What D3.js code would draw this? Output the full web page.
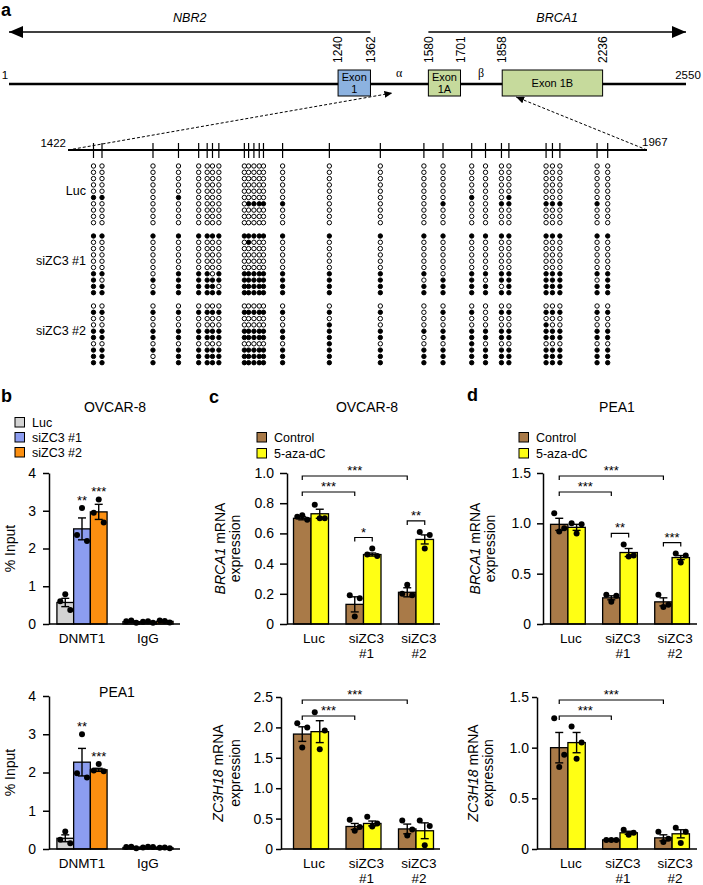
<!DOCTYPE html>
<html>
<head>
<meta charset="utf-8">
<script src="https://cdn.jsdelivr.net/npm/d3@7"></script>
<style>
  body { margin: 0; background: #fff; }
  svg { font-family: "Liberation Sans", Arial, Helvetica, sans-serif; display: block; }
</style>
</head>
<body>
<svg id="figure" width="703" height="885"></svg>
<script>
// ---------- a: gene map ----------
const mapRange = [1, 2550];
const geneNames = ["NBR2", "BRCA1"];
const geneSpans = [[1362, 1], [1580, 2550]];          // start -> arrow tip
const boundaryPos = [1240, 1362, 1580, 1701, 1858, 2236];
const exonLabels = [["Exon", "1"], ["Exon", "1A"], ["Exon 1B"]];
const exonStart = [1240, 1580, 1858];
const exonEnd = [1362, 1701, 2236];
const exonGene = ["NBR2", "BRCA1", "BRCA1"];
const regionLabels = ["α", "β"];
const regionPos = [1470, 1778];

// ---------- a: bisulfite clones ----------
const ampliconRange = [1422, 1967];
const cpgPos = [1446, 1454, 1502, 1526, 1545, 1553, 1558, 1564, 1588, 1592, 1597, 1602, 1606,
                1624, 1668, 1716, 1757, 1775, 1802, 1815, 1830, 1837, 1872, 1878, 1885, 1920, 1930];
const cloneGroups = ["Luc", "siZC3 #1", "siZC3 #2"];
const clonesLuc = [
  "000000000000000000000000000",
  "000000000000000000000000000",
  "000000000000000000000000000",
  "000000000000000000000000000",
  "000000000000000000000000000",
  "110100000000000000100100000",
  "000000000111110001001111110",
  "000000000000000000000000000",
  "000000000000000000000000000",
  "000000000000000000000000000"
];
const clonesSi1 = [
  "111111111111111111111111111",
  "000000000100000000000000000",
  "000000000000000000000000000",
  "000000000000000000000000000",
  "000000000000000000000000000",
  "000000000000000000000000000",
  "110111011111111110111111111",
  "101111111111111101101111101",
  "110111101111111111110111111",
  "111111111111111111111111111"
];
const clonesSi2 = [
  "000000000000000000000000000",
  "111111111111111101101111111",
  "000000000000000000000000000",
  "000000000000001000000010000",
  "111111111111111111111111111",
  "111111111111111101111111111",
  "000000000000001000100000000",
  "111111111111111111111111111",
  "110111111111111111111111111",
  "111111111111111111111111111"
];

// ---------- b: ChIP ----------
const chipTargets = ["DNMT1", "IgG"];
const chipSeries = ["Luc", "siZC3 #1", "siZC3 #2"];
const chipOvcarMean = [[0.57, 2.52, 2.97], [0.06, 0.05, 0.07]];
const chipOvcarSem = [[0.11, 0.29, 0.20], [0.02, 0.01, 0.02]];
const chipOvcarPts = [
  [[0.60, 0.79, 0.37], [2.36, 3.07, 2.20], [2.95, 3.30, 2.69]],
  [[0.07, 0.09, 0.03], [0.06, 0.07, 0.03], [0.09, 0.08, 0.04]]
];
const chipOvcarStars = [["", "**", "***"], ["", "", ""]];
const chipPeaMean = [[0.28, 2.27, 2.07], [0.04, 0.05, 0.03]];
const chipPeaSem = [[0.09, 0.36, 0.04], [0.01, 0.01, 0.01]];
const chipPeaPts = [
  [[0.24, 0.46, 0.15], [1.98, 3.00, 1.87], [2.05, 2.22, 2.03]],
  [[0.05, 0.06, 0.02], [0.04, 0.06, 0.05], [0.03, 0.04, 0.02]]
];
const chipPeaStars = [["", "**", "***"], ["", "", ""]];

// ---------- c, d: qPCR ----------
const exprGroups = ["Luc", "siZC3 #1", "siZC3 #2"];
const exprSeries = ["Control", "5-aza-dC"];
const ovcarBrcaMean = [[0.70, 0.73], [0.13, 0.46], [0.21, 0.56]];
const ovcarBrcaSem = [[0.01, 0.03], [0.05, 0.01], [0.03, 0.03]];
const ovcarBrcaPts = [
  [[0.71, 0.72, 0.69], [0.79, 0.70, 0.70]],
  [[0.19, 0.05, 0.17], [0.46, 0.50, 0.45]],
  [[0.20, 0.26, 0.19], [0.61, 0.50, 0.59]]
];
const ovcarZcMean = [[1.89, 1.93], [0.37, 0.42], [0.33, 0.30]];
const ovcarZcSem = [[0.12, 0.18], [0.05, 0.04], [0.08, 0.13]];
const ovcarZcPts = [
  [[2.07, 1.67, 2.00], [2.25, 1.64, 1.95]],
  [[0.48, 0.30, 0.36], [0.53, 0.37, 0.42]],
  [[0.47, 0.22, 0.32], [0.47, 0.06, 0.38]]
];
const peaBrcaMean = [[0.99, 0.96], [0.26, 0.71], [0.22, 0.66]];
const peaBrcaSem = [[0.06, 0.03], [0.02, 0.04], [0.04, 0.02]];
const peaBrcaPts = [
  [[1.10, 0.92, 0.95], [1.00, 0.90, 0.99]],
  [[0.29, 0.22, 0.28], [0.79, 0.67, 0.68]],
  [[0.29, 0.17, 0.19], [0.70, 0.61, 0.68]]
];
const peaZcMean = [[1.00, 1.05], [0.09, 0.16], [0.11, 0.15]];
const peaZcSem = [[0.15, 0.10], [0.005, 0.015], [0.03, 0.04]];
const peaZcPts = [
  [[1.29, 0.81, 0.93], [1.21, 0.89, 1.05]],
  [[0.09, 0.09, 0.09], [0.19, 0.14, 0.16]],
  [[0.17, 0.07, 0.10], [0.21, 0.06, 0.17]]
];
const ovcarBrcaSig = [
  ["Luc", "Control", "siZC3 #2", "Control", "***"],
  ["Luc", "Control", "siZC3 #1", "Control", "***"],
  ["siZC3 #1", "Control", "siZC3 #1", "5-aza-dC", "*"],
  ["siZC3 #2", "Control", "siZC3 #2", "5-aza-dC", "**"]
];
const ovcarZcSig = [
  ["Luc", "Control", "siZC3 #2", "Control", "***"],
  ["Luc", "Control", "siZC3 #1", "Control", "***"]
];
const peaBrcaSig = [
  ["Luc", "Control", "siZC3 #2", "Control", "***"],
  ["Luc", "Control", "siZC3 #1", "Control", "***"],
  ["siZC3 #1", "Control", "siZC3 #1", "5-aza-dC", "**"],
  ["siZC3 #2", "Control", "siZC3 #2", "5-aza-dC", "***"]
];
const peaZcSig = ovcarZcSig;

const chipColors = d3.scaleOrdinal().domain(chipSeries).range(["#d3d3d3", "#8c9df0", "#fc8f10"]);
const exprColors = d3.scaleOrdinal().domain(exprSeries).range(["#a97a48", "#ffff14"]);
const exonColors = { NBR2: "#8cb2e0", BRCA1: "#c6da9c" };

const svg = d3.select("#figure");
const defs = svg.append("defs");

function addMarker(id, w, h) {
    defs.append("marker")
        .attr("id", id)
        .attr("viewBox", "0 0 10 10")
        .attr("refX", 10)
        .attr("refY", 5)
        .attr("markerUnits", "userSpaceOnUse")
        .attr("markerWidth", w)
        .attr("markerHeight", h)
        .attr("preserveAspectRatio", "none")
        .attr("orient", "auto")
        .append("path")
        .attr("d", "M0,0L10,5L0,10Z")
        .attr("fill", "#000");
}
addMarker("bigHead", 14, 12);
addMarker("smallHead", 8, 7);

function panelLetter(t, x, y) {
    svg.append("text").attr("x", x).attr("y", y)
        .attr("font-size", 18).attr("font-weight", "bold").text(t);
}

// ================= panel a =================
panelLetter("a", 1, 16);

const gx = d3.scaleLinear().domain(mapRange).range([9, 686]);
const mapY = 84;
const geneY = 32;

geneNames.forEach((name, i) => {
    const span = geneSpans[i];
    svg.append("line")
        .attr("x1", gx(span[0])).attr("x2", gx(span[1]))
        .attr("y1", geneY).attr("y2", geneY)
        .attr("stroke", "#000").attr("stroke-width", 1.4)
        .attr("marker-end", "url(#bigHead)");
    svg.append("text")
        .attr("x", (gx(span[0]) + gx(span[1])) / 2).attr("y", 22)
        .attr("text-anchor", "middle").attr("font-size", 12.5).attr("font-style", "italic")
        .text(name);
});

boundaryPos.forEach(p => {
    svg.append("text")
        .attr("transform", `translate(${gx(p)},63) rotate(-90)`)
        .attr("dy", "0.35em").attr("font-size", 12)
        .text(p);
});

svg.append("line")
    .attr("x1", gx(mapRange[0])).attr("x2", gx(mapRange[1]))
    .attr("y1", mapY).attr("y2", mapY)
    .attr("stroke", "#000").attr("stroke-width", 2.6);

svg.append("text").attr("x", gx(mapRange[0]) - 4).attr("y", 79)
    .attr("text-anchor", "middle").attr("font-size", 11.5).text(mapRange[0]);
svg.append("text").attr("x", gx(mapRange[1]) + 2).attr("y", 79)
    .attr("text-anchor", "middle").attr("font-size", 11.5).text(mapRange[1]);

exonLabels.forEach((lines, i) => {
    const x0 = gx(exonStart[i]), x1 = gx(exonEnd[i]);
    svg.append("rect")
        .attr("x", x0).attr("y", 70).attr("width", x1 - x0).attr("height", 26)
        .attr("fill", exonColors[exonGene[i]]).attr("stroke", "#000").attr("stroke-width", 1);
    const t = svg.append("text").attr("text-anchor", "middle").attr("font-size", 11);
    if (lines.length === 1) {
        t.attr("x", (x0 + x1) / 2).attr("y", 87).text(lines[0]);
    } else {
        lines.forEach((l, j) => {
            t.append("tspan").attr("x", (x0 + x1) / 2).attr("y", 81 + j * 12).text(l);
        });
    }
});

regionLabels.forEach((r, i) => {
    svg.append("text").attr("x", gx(regionPos[i])).attr("y", 77)
        .attr("text-anchor", "middle").attr("font-size", 12)
        .attr("font-family", "'Liberation Serif', 'DejaVu Serif', serif")
        .text(r);
});

// bisulfite map
const lx = d3.scaleLinear().domain(ampliconRange).range([68, 647]);
const lolY = 150;

svg.append("line")
    .attr("x1", lx(ampliconRange[0])).attr("y1", lolY)
    .attr("x2", gx(ampliconRange[0]) + 6).attr("y2", mapY + 9)
    .attr("stroke", "#000").attr("stroke-width", 1).attr("stroke-dasharray", "3,2")
    .attr("marker-end", "url(#smallHead)");
svg.append("line")
    .attr("x1", lx(ampliconRange[1])).attr("y1", lolY)
    .attr("x2", gx(ampliconRange[1]) - 15).attr("y2", mapY + 13)
    .attr("stroke", "#000").attr("stroke-width", 1).attr("stroke-dasharray", "3,2")
    .attr("marker-end", "url(#smallHead)");

svg.append("line")
    .attr("x1", lx(ampliconRange[0])).attr("x2", lx(ampliconRange[1]))
    .attr("y1", lolY).attr("y2", lolY)
    .attr("stroke", "#000").attr("stroke-width", 2.2);

svg.append("text").attr("x", lx(ampliconRange[0]) - 2).attr("y", 147)
    .attr("text-anchor", "end").attr("font-size", 11.5).text(ampliconRange[0]);
svg.append("text").attr("x", lx(ampliconRange[1]) - 5).attr("y", 146)
    .attr("font-size", 11.5).text(ampliconRange[1]);

svg.append("g").selectAll("line")
    .data(cpgPos)
    .enter().append("line")
    .attr("x1", d => lx(d)).attr("x2", d => lx(d))
    .attr("y1", lolY - 7).attr("y2", lolY + 8)
    .attr("stroke", "#000").attr("stroke-width", 1.2);

const cloneSets = [clonesLuc, clonesSi1, clonesSi2];
const rowStep = 6.3;
cloneSets.forEach((rows, gi) => {
    const top = 166 + gi * 70;
    const g = svg.append("g");
    rows.forEach((row, ri) => {
        g.selectAll(null)
            .data(row.split(""))
            .enter().append("circle")
            .attr("cx", (d, si) => lx(cpgPos[si]))
            .attr("cy", top + ri * rowStep)
            .attr("r", 2.2)
            .attr("fill", d => d === "1" ? "#000" : "#fff")
            .attr("stroke", "#000")
            .attr("stroke-width", 1);
    });
    svg.append("text")
        .attr("x", 86).attr("y", top + 4.5 * rowStep + 1)
        .attr("text-anchor", "end").attr("font-size", 12.5)
        .text(cloneGroups[gi]);
});

// ================= bar panels =================
function barPanel(p) {
    const g = svg.append("g");
    const y = d3.scaleLinear().domain([0, p.max]).range([p.bottom, p.top]);
    const xg = d3.scaleBand().domain(p.groups).range(p.band)
        .paddingInner(p.inner).paddingOuter(p.outer);
    const xs = d3.scaleBand().domain(p.series).range([0, xg.bandwidth()]);
    const bw = xs.bandwidth();
    const cx = (grp, s) => xg(grp) + xs(s) + bw / 2;

    // bars
    p.groups.forEach((grp, gi) => {
        p.series.forEach((s, si) => {
            const m = p.mean[gi][si];
            g.append("rect")
                .attr("x", xg(grp) + xs(s)).attr("y", y(m))
                .attr("width", bw).attr("height", y(0) - y(m))
                .attr("fill", p.colors(s)).attr("stroke", "#000").attr("stroke-width", 1.3);
        });
    });

    // error bars and dots
    p.groups.forEach((grp, gi) => {
        p.series.forEach((s, si) => {
            const m = p.mean[gi][si], e = p.sem[gi][si], x = cx(grp, s);
            const eb = g.append("g").attr("stroke", "#000").attr("stroke-width", 1.4);
            eb.append("line").attr("x1", x).attr("x2", x).attr("y1", y(Math.max(0, m - e))).attr("y2", y(m + e));
            eb.append("line").attr("x1", x - 4).attr("x2", x + 4).attr("y1", y(m + e)).attr("y2", y(m + e));
            if (m - e > 0) eb.append("line").attr("x1", x - 4).attr("x2", x + 4).attr("y1", y(m - e)).attr("y2", y(m - e));
            g.selectAll(null)
                .data(p.pts[gi][si])
                .enter().append("circle")
                .attr("cx", (d, i) => x + (i - 1) * 5)
                .attr("cy", d => y(d))
                .attr("r", 3)
                .attr("fill", "#000");
            if (p.stars && p.stars[gi][si]) {
                const hi = Math.max(m + e, d3.max(p.pts[gi][si]));
                g.append("text")
                    .attr("x", x).attr("y", y(hi) - 3)
                    .attr("text-anchor", "middle").attr("font-size", 13)
                    .text(p.stars[gi][si]);
            }
        });
    });

    // significance brackets
    if (p.sig) {
        let tier = 0;
        p.sig.forEach(([g1, s1, g2, s2, lab]) => {
            const xa = cx(g1, s1), xb = cx(g2, s2);
            let yy;
            if (g1 !== g2) {
                yy = p.top + 3 + tier * 16;
                tier++;
            } else {
                const gi = p.groups.indexOf(g1);
                const hi = d3.max([s1, s2], s => {
                    const si = p.series.indexOf(s);
                    return Math.max(p.mean[gi][si] + p.sem[gi][si], d3.max(p.pts[gi][si]));
                });
                yy = y(hi) - 11;
            }
            g.append("path")
                .attr("d", `M${xa},${yy + 4}V${yy}H${xb}V${yy + 4}`)
                .attr("fill", "none").attr("stroke", "#000").attr("stroke-width", 1.2);
            g.append("text")
                .attr("x", (xa + xb) / 2).attr("y", yy - 1)
                .attr("text-anchor", "middle").attr("font-size", 13)
                .text(lab);
        });
    }

    // axes
    const ax = g.append("g")
        .attr("transform", `translate(${p.axisX},0)`)
        .call(d3.axisLeft(y).tickValues(p.ticks).tickFormat(p.fmt)
            .tickSize(p.tickLen).tickSizeOuter(0).tickPadding(p.tickPad));
    ax.attr("font-size", null).attr("font-family", null);
    ax.select(".domain").attr("stroke-width", 1.5);
    ax.selectAll(".tick line").attr("stroke-width", 1.5);
    ax.selectAll(".tick text").attr("font-size", 14).attr("fill", "#000");

    g.append("line")
        .attr("x1", p.axisX).attr("x2", p.axisEnd)
        .attr("y1", y(0)).attr("y2", y(0))
        .attr("stroke", "#000").attr("stroke-width", 1.5);

    // x labels
    p.groups.forEach(grp => {
        const t = g.append("text").attr("text-anchor", "middle").attr("font-size", 13.5);
        const parts = grp.startsWith("siZC3") ? grp.split(" ") : [grp];
        parts.forEach((l, j) => {
            t.append("tspan").attr("x", xg(grp) + xg.bandwidth() / 2 + p.labShift)
                .attr("y", p.bottom + 19 + j * 15).text(l);
        });
    });

    // y label
    p.yLab.forEach((line, i) => {
        const t = g.append("text")
            .attr("transform", `translate(${p.yLabX[i]},${(p.top + p.bottom) / 2}) rotate(-90)`)
            .attr("dy", "0.35em").attr("text-anchor", "middle").attr("font-size", 14);
        line.forEach(([txt, it]) => {
            t.append("tspan").attr("font-style", it ? "italic" : null).text(txt);
        });
    });

    // title
    if (p.title) {
        g.append("text").attr("x", p.title[1]).attr("y", p.title[2])
            .attr("text-anchor", "middle").attr("font-size", 14).text(p.title[0]);
    }

    // legend
    if (p.legend) {
        p.series.forEach((s, i) => {
            const ly = p.legend[1] + i * p.legend[2];
            g.append("rect").attr("x", p.legend[0]).attr("y", ly - 4.5)
                .attr("width", 9.5).attr("height", 9.5)
                .attr("fill", p.colors(s)).attr("stroke", "#000").attr("stroke-width", 1);
            g.append("text").attr("x", p.legend[0] + 17).attr("y", ly + 4.5)
                .attr("font-size", 12.5).text(s);
        });
    }
}

// ---- b
panelLetter("b", 1, 402);
const chipBase = {
    groups: chipTargets, series: chipSeries, colors: chipColors,
    max: 4, ticks: [0, 1, 2, 3, 4], fmt: d3.format("d"),
    axisX: 49, axisEnd: 180, band: [49, 181], inner: 0.24, outer: 0.12,
    tickLen: 6, tickPad: 7, labShift: 0,
    yLab: [[["% Input", false]]], yLabX: [10]
};
barPanel(Object.assign({}, chipBase, {
    mean: chipOvcarMean, sem: chipOvcarSem, pts: chipOvcarPts, stars: chipOvcarStars,
    top: 473, bottom: 624, title: ["OVCAR-8", 115, 412], legend: [15, 422, 15]
}));
barPanel(Object.assign({}, chipBase, {
    mean: chipPeaMean, sem: chipPeaSem, pts: chipPeaPts, stars: chipPeaStars,
    top: 696, bottom: 849, title: ["PEA1", 117, 697]
}));

// ---- c
panelLetter("c", 209, 403);
const brcaLab = [[["BRCA1", true], [" mRNA", false]], [["expression", false]]];
const zcLab = [[["ZC3H18", true], [" mRNA", false]], [["expression", false]]];
const decFmt = d => d === 0 ? "0" : d.toFixed(1);
const exprBase = {
    groups: exprGroups, series: exprSeries, colors: exprColors,
    fmt: decFmt, inner: 1 / 3, labShift: 3
};
barPanel(Object.assign({}, exprBase, {
    mean: ovcarBrcaMean, sem: ovcarBrcaSem, pts: ovcarBrcaPts, sig: ovcarBrcaSig,
    max: 1, ticks: [0, 0.2, 0.4, 0.6, 0.8, 1.0],
    top: 473, bottom: 624, axisX: 287, axisEnd: 440, band: [287, 440], outer: 0.124,
    tickLen: 7, tickPad: 6, yLab: brcaLab, yLabX: [220, 235],
    title: ["OVCAR-8", 367, 412], legend: [257, 437, 16]
}));
barPanel(Object.assign({}, exprBase, {
    mean: ovcarZcMean, sem: ovcarZcSem, pts: ovcarZcPts, sig: ovcarZcSig,
    max: 2.5, ticks: [0, 0.5, 1.0, 1.5, 2.0, 2.5],
    top: 697, bottom: 849, axisX: 281, axisEnd: 440, band: [287, 440], outer: 0.124,
    tickLen: 5, tickPad: 3, yLab: zcLab, yLabX: [218, 235]
}));

// ---- d
panelLetter("d", 467, 401);
barPanel(Object.assign({}, exprBase, {
    mean: peaBrcaMean, sem: peaBrcaSem, pts: peaBrcaPts, sig: peaBrcaSig,
    max: 1.5, ticks: [0, 0.5, 1.0, 1.5],
    top: 473, bottom: 624, axisX: 543, axisEnd: 697, band: [543, 697], outer: 0.145,
    tickLen: 6, tickPad: 6, yLab: brcaLab, yLabX: [475, 490],
    title: ["PEA1", 617, 412], legend: [519, 437, 16]
}));
barPanel(Object.assign({}, exprBase, {
    mean: peaZcMean, sem: peaZcSem, pts: peaZcPts, sig: peaZcSig,
    max: 1.5, ticks: [0, 0.5, 1.0, 1.5],
    top: 697, bottom: 849, axisX: 537, axisEnd: 697, band: [543, 697], outer: 0.145,
    tickLen: 5, tickPad: 3, yLab: zcLab, yLabX: [473, 488]
}));
</script>
</body>
</html>
